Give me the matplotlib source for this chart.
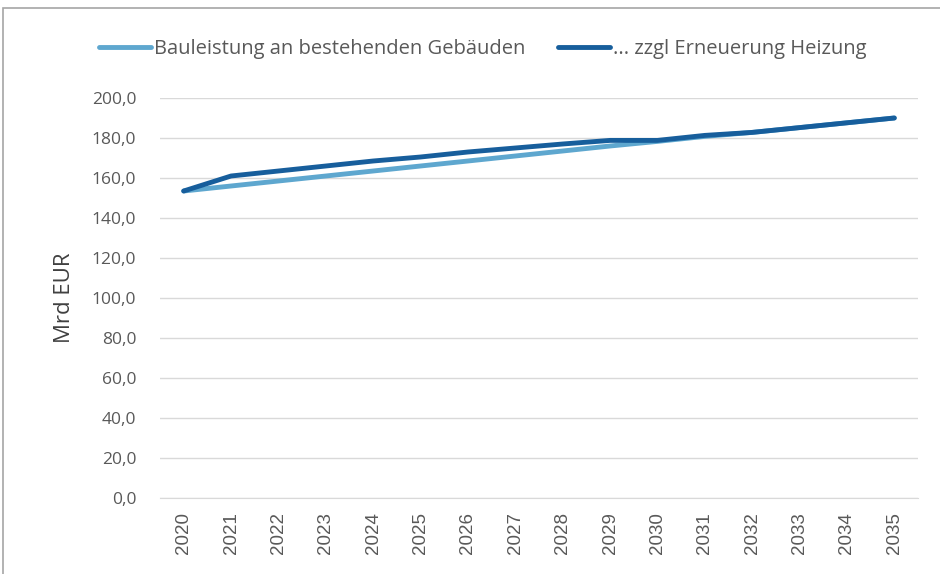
import matplotlib.pyplot as plt
from matplotlib.patches import Rectangle

years = list(range(2020, 2036))
bauleistung = [153.5, 156.0, 158.5, 161.0, 163.5, 166.0, 168.5, 171.0, 173.5,
               176.0, 178.3, 180.8, 182.8, 185.2, 187.6, 190.0]
heizung = [153.5, 161.0, 163.5, 166.0, 168.5, 170.5, 173.0, 175.0, 177.0,
           178.8, 178.8, 181.3, 182.8, 185.2, 187.6, 190.0]
labels = ['Bauleistung an bestehenden Gebäuden', '... zzgl Erneuerung Heizung']

fig = plt.figure(figsize=(9.4, 5.74), dpi=100)
ax = fig.add_axes([160 / 940, 76 / 574, 758 / 940, 400 / 574])

# Rahmen um die Grafik
fig.patches.append(Rectangle((3 / 940, -0.01), 1.0, (574 - 8) / 574 + 0.01,
                             transform=fig.transFigure, fill=False,
                             edgecolor='#a6a6a6', linewidth=1.2))

x = list(range(len(years)))
ax.plot(x, bauleistung, color='#5ea7cf', linewidth=3.5, solid_capstyle='round',
        label=labels[0])
ax.plot(x, heizung, color='#175e9c', linewidth=3.5, solid_capstyle='round',
        label=labels[1])

ax.set_xlim(-0.5, len(years) - 0.5)
ax.set_ylim(0, 200)
ax.set_yticks(range(0, 201, 20))
ax.set_yticklabels([f'{v:.1f}'.replace('.', ',') for v in range(0, 201, 20)],
                   fontsize=12.5, color='#595959', family='Open Sans')
ax.set_xticks(x)
ax.set_xticklabels([str(y) for y in years], rotation=90, fontsize=13.5,
                   color='#595959', family='Liberation Sans')
ax.tick_params(axis='y', length=0, pad=17)
ax.tick_params(axis='x', length=0, pad=10)
ax.grid(axis='y', color='#d9d9d9', linewidth=1)
ax.set_axisbelow(True)
for s in ['top', 'right', 'left']:
    ax.spines[s].set_visible(False)
ax.spines['bottom'].set_color('#d9d9d9')

ax.set_ylabel('Mrd EUR', fontsize=16, color='#404040', labelpad=12,
              family='Open Sans')

fig.legend(loc='center', bbox_to_anchor=(483 / 940, 1 - 49 / 574), ncol=2,
           frameon=False, handlelength=2.6, handletextpad=0.15,
           columnspacing=1.6, labelcolor='#595959',
           prop={'family': 'Open Sans', 'size': 14.5})

plt.savefig('out.png')
